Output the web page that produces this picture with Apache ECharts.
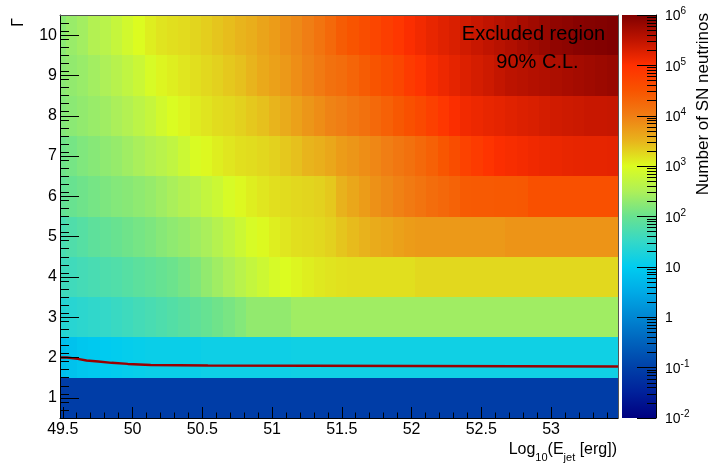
<!DOCTYPE html>
<html><head><meta charset="utf-8">
<script src="https://cdn.jsdelivr.net/npm/echarts@6/dist/echarts.min.js"></script>
<style>html,body{margin:0;padding:0;background:#fff}#c{width:711px;height:464px}</style>
</head><body><div id="c"></div>
<script>
// ---- data ----
const GAMMA = [1, 2, 3, 4, 5, 6, 7, 8, 9, 10];
const LOGE_BIN_LOW = 49.44, LOGE_BIN_HIGH = 53.48, N_BINS = 50;
// log10(number of SN neutrinos), one array per Gamma row, 50 log10(E_jet) bins each
const LOG10N_G1 = [-1.05,-1.05,-1.05,-1.05,-1.05,-1.05,-1.05,-1.05,-1.05,-1.05,-1.05,-1.05,-1.05,-1.05,-1.05,-1.05,-1.05,-1.05,-1.05,-1.05,-1.05,-1.05,-1.05,-1.05,-1.05,-1.05,-1.05,-1.05,-1.05,-1.05,-1.05,-1.05,-1.05,-1.05,-1.05,-1.05,-1.05,-1.05,-1.05,-1.05,-1.05,-1.05,-1.05,-1.05,-1.05,-1.05,-1.05,-1.05,-1.05,-1.05];
const LOG10N_G2 = [0.8,0.85,0.92,0.96,0.99,1.02,1.05,1.07,1.1,1.1,1.1,1.1,1.1,1.13,1.13,1.13,1.13,1.13,1.13,1.13,1.13,1.15,1.15,1.15,1.15,1.15,1.15,1.15,1.15,1.15,1.15,1.15,1.15,1.15,1.15,1.15,1.15,1.15,1.15,1.15,1.15,1.15,1.15,1.15,1.15,1.15,1.15,1.15,1.15,1.15];
const LOG10N_G3 = [1.35,1.38,1.42,1.46,1.5,1.55,1.6,1.65,1.7,1.75,1.8,1.86,1.92,1.98,2.05,2.12,2.2,2.3,2.3,2.3,2.3,2.4,2.4,2.4,2.4,2.4,2.4,2.4,2.4,2.4,2.4,2.4,2.4,2.4,2.4,2.4,2.4,2.4,2.4,2.4,2.4,2.4,2.4,2.4,2.4,2.4,2.4,2.4,2.4,2.4];
const LOG10N_G4 = [1.6,1.62,1.66,1.7,1.75,1.78,1.83,1.88,1.93,1.98,2.03,2.1,2.18,2.3,2.4,2.5,2.62,2.73,2.83,2.93,3.0,3.05,3.1,3.14,3.17,3.19,3.2,3.2,3.2,3.2,3.2,3.2,3.25,3.25,3.25,3.25,3.25,3.25,3.25,3.25,3.25,3.25,3.25,3.25,3.25,3.25,3.25,3.25,3.25,3.25];
const LOG10N_G5 = [1.7,1.77,1.83,1.9,1.95,2.0,2.05,2.1,2.15,2.22,2.28,2.33,2.4,2.47,2.58,2.7,2.82,2.95,3.02,3.1,3.15,3.2,3.22,3.25,3.3,3.38,3.45,3.52,3.58,3.62,3.68,3.72,3.75,3.75,3.75,3.75,3.75,3.75,3.75,3.75,3.8,3.8,3.8,3.8,3.8,3.8,3.8,3.8,3.8,3.8];
const LOG10N_G6 = [1.95,2.0,2.05,2.1,2.15,2.2,2.23,2.28,2.33,2.4,2.47,2.55,2.62,2.73,2.82,2.95,3.03,3.1,3.15,3.2,3.22,3.25,3.27,3.3,3.36,3.52,3.62,3.72,3.82,3.9,3.97,4.05,4.12,4.2,4.26,4.32,4.42,4.43,4.43,4.44,4.44,4.45,4.55,4.55,4.55,4.55,4.55,4.55,4.55,4.55];
const LOG10N_G7 = [2.05,2.1,2.17,2.22,2.28,2.33,2.4,2.47,2.55,2.62,2.7,2.82,2.97,3.03,3.1,3.15,3.2,3.22,3.26,3.3,3.36,3.42,3.5,3.55,3.62,3.72,3.78,3.85,3.92,4.0,4.08,4.15,4.25,4.35,4.48,4.6,4.75,4.85,4.95,5.03,5.06,5.09,5.12,5.14,5.16,5.18,5.19,5.2,5.2,5.21];
const LOG10N_G8 = [2.2,2.25,2.3,2.35,2.4,2.48,2.55,2.65,2.75,2.88,2.98,3.05,3.12,3.17,3.22,3.25,3.3,3.36,3.42,3.5,3.58,3.68,3.78,3.86,3.95,4.0,4.08,4.15,4.25,4.35,4.45,4.55,4.65,4.78,4.9,5.03,5.1,5.14,5.18,5.21,5.25,5.28,5.3,5.34,5.37,5.4,5.41,5.44,5.44,5.45];
const LOG10N_G9 = [2.25,2.3,2.35,2.42,2.5,2.6,2.7,2.8,2.95,3.05,3.1,3.15,3.2,3.25,3.3,3.36,3.42,3.5,3.6,3.68,3.75,3.85,3.95,4.05,4.15,4.2,4.3,4.4,4.5,4.6,4.7,4.85,4.95,5.07,5.14,5.21,5.28,5.34,5.4,5.47,5.53,5.56,5.59,5.62,5.66,5.69,5.72,5.75,5.78,5.81];
const LOG10N_G10 = [2.25,2.35,2.42,2.55,2.62,2.75,2.88,3.0,3.1,3.17,3.2,3.23,3.27,3.32,3.38,3.44,3.5,3.56,3.65,3.72,3.82,3.9,4.0,4.12,4.25,4.4,4.5,4.6,4.7,4.8,4.9,5.03,5.1,5.18,5.25,5.3,5.37,5.44,5.5,5.56,5.62,5.69,5.75,5.81,5.87,5.9,5.94,5.96,5.98,6.0];
// 90% C.L. exclusion contour (step line)
const CONTOUR_LOGE = [49.48, 49.53, 49.607, 49.67, 49.755, 49.85, 49.966, 50.13, 50.54, 53.48];
const CONTOUR_GAMMA = [2.0, 1.967, 1.927, 1.90, 1.868, 1.843, 1.818, 1.80, 1.78, 1.78];
// tick labels
const X_TICKS = [49.5, 50, 50.5, 51, 51.5, 52, 52.5, 53];
const Y_TICKS = [1, 2, 3, 4, 5, 6, 7, 8, 9, 10];
const Z_DECADES = [-2, -1, 0, 1, 2, 3, 4, 5, 6];

// ---- style ----
const FONT = 'Liberation Sans, Arial, Helvetica, sans-serif';
const PALETTE = ['#000080','#00209a','#0040a8','#0062bc','#0086d2','#00aae6','#00ccf0','#34d8c8','#68e290','#aef058','#dcfc20','#e8b41c','#f07e14','#f85400','#ff3000','#c01400','#800000'];

const ROWS = [LOG10N_G1, LOG10N_G2, LOG10N_G3, LOG10N_G4, LOG10N_G5, LOG10N_G6, LOG10N_G7, LOG10N_G8, LOG10N_G9, LOG10N_G10];
const binW = (LOGE_BIN_HIGH - LOGE_BIN_LOW) / N_BINS;
const cells = [];
ROWS.forEach((row, r) => row.forEach((v, k) => {
  const x0 = LOGE_BIN_LOW + k * binW;
  cells.push([x0, x0 + binW, GAMMA[r], v]);
}));

const xMinor = [];
for (let i = 0; i <= 39; i++) xMinor.push(Math.round((49.5 + i * 0.1) * 10) / 10);
const yMinor = [];
for (let i = 1; i <= 49; i++) { const v = Math.round((0.5 + i * 0.2) * 10) / 10; if (Math.abs(v - Math.round(v)) > 1e-6) yMinor.push(v); }
const zMinor = [];
for (let d = -2; d < 6; d++) for (let m = 2; m <= 9; m++) zMinor.push(d + Math.log10(m));

const chart = echarts.init(document.getElementById('c'), null, {renderer: 'canvas'});
const tickStyle = {color: '#000', width: 1};
const option = {
  animation: false,
  backgroundColor: '#fff',
  grid: [
    {left: 60, right: 93, top: 15, bottom: 46, containLabel: false, outerBoundsMode: 'none'},
    {left: 622, width: 34, top: 15, bottom: 46, containLabel: false, outerBoundsMode: 'none'}
  ],
  xAxis: [
    {type: 'value', gridIndex: 0, min: 49.48, max: 53.48, position: 'bottom', z: 10,
     axisLine: {show: true, onZero: false, lineStyle: {color: '#000', width: 1}},
     axisTick: {show: true, inside: true, length: 11, customValues: X_TICKS, lineStyle: tickStyle},
     axisLabel: {show: true, customValues: X_TICKS, formatter: v => String(v), fontSize: 16, color: '#000', fontFamily: FONT, margin: 4},
     splitLine: {show: false}},
    {type: 'value', gridIndex: 0, min: 49.48, max: 53.48, position: 'bottom', z: 10,
     axisLine: {show: false, onZero: false},
     axisTick: {show: true, inside: true, length: 5.5, customValues: xMinor, lineStyle: tickStyle},
     axisLabel: {show: false}, splitLine: {show: false}},
    {type: 'value', gridIndex: 1, min: 0, max: 1, show: false, axisLine: {onZero: false}},
    {type: 'value', gridIndex: 0, min: 49.48, max: 53.48, position: 'top', z: 10,
     axisLine: {show: true, onZero: false, lineStyle: {color: '#555', width: 1}},
     axisTick: {show: false}, axisLabel: {show: false}, splitLine: {show: false}}
  ],
  yAxis: [
    {type: 'value', gridIndex: 0, min: 0.5, max: 10.5, position: 'left', z: 10,
     axisLine: {show: true, onZero: false, lineStyle: {color: '#000', width: 1}},
     axisTick: {show: true, inside: true, length: 19, customValues: Y_TICKS, lineStyle: tickStyle},
     axisLabel: {show: true, customValues: Y_TICKS, formatter: v => String(v), fontSize: 16, color: '#000', fontFamily: FONT, margin: 3},
     splitLine: {show: false}},
    {type: 'value', gridIndex: 0, min: 0.5, max: 10.5, position: 'left', z: 10,
     axisLine: {show: false, onZero: false},
     axisTick: {show: true, inside: true, length: 9, customValues: yMinor, lineStyle: tickStyle},
     axisLabel: {show: false}, splitLine: {show: false}},
    {type: 'value', gridIndex: 1, min: -2, max: 6, position: 'right', z: 10,
     axisLine: {show: true, onZero: false, lineStyle: {color: '#000', width: 1}},
     axisTick: {show: true, inside: true, length: 19, customValues: Z_DECADES, lineStyle: tickStyle},
     axisLabel: {show: true, customValues: Z_DECADES, margin: 9,
       formatter: v => (v === 0 ? '{b|1}' : v === 1 ? '{b|10}' : '{b|10}{sup|' + v + '}'),
       rich: {
         b: {fontSize: 14, fontFamily: FONT, color: '#000', lineHeight: 16, verticalAlign: 'bottom'},
         sup: {fontSize: 10, fontFamily: FONT, color: '#000', verticalAlign: 'top', padding: [0, 0, 7, 0]}
       }},
     splitLine: {show: false}},
    {type: 'value', gridIndex: 1, min: -2, max: 6, position: 'right', z: 10,
     axisLine: {show: false, onZero: false},
     axisTick: {show: true, inside: true, length: 9, customValues: zMinor, lineStyle: tickStyle},
     axisLabel: {show: false}, splitLine: {show: false}},
    {type: 'value', gridIndex: 0, min: 0.5, max: 10.5, position: 'right', z: 10,
     axisLine: {show: true, onZero: false, lineStyle: {color: '#555', width: 1}},
     axisTick: {show: false}, axisLabel: {show: false}, splitLine: {show: false}}
  ],
  visualMap: [{type: 'continuous', min: -2, max: 6, dimension: 3, seriesIndex: 0, show: false, inRange: {color: PALETTE}}],
  series: [
    {type: 'custom', xAxisIndex: 0, yAxisIndex: 0, data: cells, encode: {x: [0, 1], y: 2}, z: 2,
     renderItem: function (params, api) {
       const p0 = api.coord([api.value(0), api.value(2) - 0.5]);
       const p1 = api.coord([api.value(1), api.value(2) + 0.5]);
       const x0 = Math.round(p0[0]), x1 = Math.round(p1[0]);
       const yT = Math.round(p1[1]), yB = Math.round(p0[1]);
       const shape = echarts.graphic.clipRectByRect(
         {x: x0, y: yT, width: x1 - x0, height: yB - yT},
         {x: params.coordSys.x, y: params.coordSys.y, width: params.coordSys.width, height: params.coordSys.height});
       if (!shape) return null;
       return {type: 'rect', shape: shape, style: {fill: api.visual('color')}};
     }},
    {type: 'custom', xAxisIndex: 2, yAxisIndex: 2, data: [[0, 1, -2, 6]], z: 2,
     renderItem: function (params, api) {
       const p0 = api.coord([api.value(0), api.value(2)]);
       const p1 = api.coord([api.value(1), api.value(3)]);
       const stops = PALETTE.map((c, i) => ({offset: i / (PALETTE.length - 1), color: c}));
       return {type: 'rect', shape: {x: p0[0], y: p1[1], width: p1[0] - p0[0], height: p0[1] - p1[1]},
         style: {fill: new echarts.graphic.LinearGradient(0, 1, 0, 0, stops)}};
     }},
    {type: 'line', xAxisIndex: 0, yAxisIndex: 0, z: 5, step: 'end', showSymbol: false, symbol: 'none',
     data: CONTOUR_LOGE.map((x, i) => [x, CONTOUR_GAMMA[i]]),
     lineStyle: {color: '#990000', width: 2.5}}
  ],
  graphic: [
    {type: 'text', x: 533.5, y: 34, z: 20, style: {text: 'Excluded region', x: 0, y: 0, align: 'center', verticalAlign: 'middle', fontSize: 20, fontFamily: FONT, fill: '#000'}},
    {type: 'text', x: 537.5, y: 62, z: 20, style: {text: '90% C.L.', x: 0, y: 0, align: 'center', verticalAlign: 'middle', fontSize: 20, fontFamily: FONT, fill: '#000'}},
    {type: 'text', x: 19, y: 18, rotation: Math.PI / 2, z: 20, style: {text: 'Γ', x: 0, y: 0, align: 'right', verticalAlign: 'middle', fontSize: 16, fontFamily: FONT, fill: '#000'}},
    {type: 'text', x: 703, y: 13, rotation: Math.PI / 2, z: 20, style: {text: 'Number of SN neutrinos', x: 0, y: 0, align: 'right', verticalAlign: 'middle', fontSize: 17, fontFamily: FONT, fill: '#000'}},
    {type: 'text', x: 617, y: 452.5, z: 20, style: {
      text: '{n|Log}{s|10}{n|(E}{s|jet}{n| [erg])}', x: 0, y: 0, align: 'right', verticalAlign: 'middle',
      rich: {
        n: {fontSize: 16, fontFamily: FONT, fill: '#000', color: '#000', lineHeight: 18, verticalAlign: 'top'},
        s: {fontSize: 11, fontFamily: FONT, fill: '#000', color: '#000', verticalAlign: 'top', padding: [10, 0, 0, 0]}
      }}}
  ]
};
chart.setOption(option);
</script>
</body></html>
